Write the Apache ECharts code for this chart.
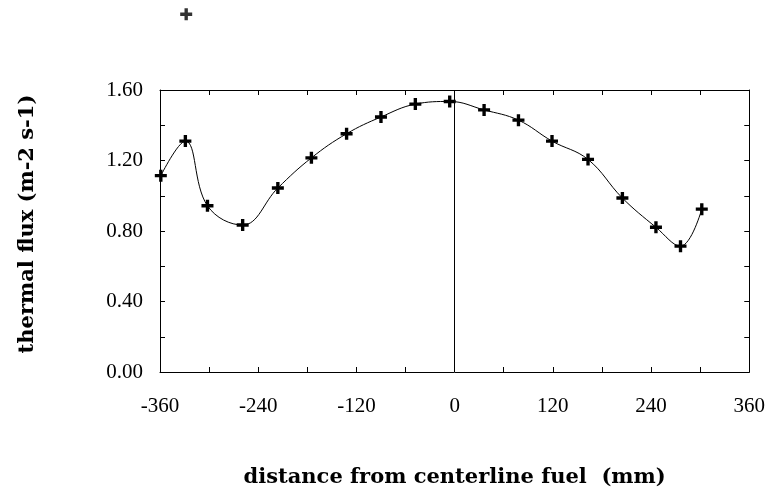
<!DOCTYPE html>
<html>
<head>
<meta charset="utf-8">
<script src="https://cdn.jsdelivr.net/npm/echarts@6/dist/echarts.min.js"></script>
<style>html,body{margin:0;padding:0;background:#fff;}#c{width:768px;height:497px;}</style>
</head>
<body>
<div id="c"></div>
<script>
const distance = [-359, -329, -302, -259, -216, -175, -132, -90, -48, -6, 36, 78, 119, 163, 205, 246, 276, 302];
const flux = [1.114, 1.31, 0.943, 0.834, 1.044, 1.215, 1.352, 1.447, 1.52, 1.535, 1.487, 1.429, 1.31, 1.206, 0.987, 0.821, 0.714, 0.924];
const strayDistance = [-328];
const strayFlux = [2.03];
const xTicks = [-360, -240, -120, 0, 120, 240, 360];
const yTicks = [0.0, 0.4, 0.8, 1.2, 1.6];

const plus = 'path://M3.6,0 H6.4 V3.6 H10 V6.4 H6.4 V10 H3.6 V6.4 H0 V3.6 H3.6 Z';
const font = 'Liberation Serif';
const titleFont = 'DejaVu Serif';
const chart = echarts.init(document.getElementById('c'), null, {renderer: 'canvas'});

const baseAxis = {
  axisLine: {show: true, onZero: false, lineStyle: {color: '#000', width: 1}},
  axisTick: {show: true, inside: true, length: 5, lineStyle: {color: '#000'}},
  splitLine: {show: false}
};

chart.setOption({
  animation: false,
  backgroundColor: '#fff',
  grid: {left: 160, right: 18, top: 90, bottom: 125},
  xAxis: [
    Object.assign({}, baseAxis, {
      type: 'value', min: -360, max: 360, interval: 60, position: 'bottom',
      name: 'distance from centerline fuel  (mm)', nameLocation: 'middle', nameGap: 95,
      nameTextStyle: {fontFamily: titleFont, fontSize: 21, fontWeight: 'bold', color: '#000'},
      axisLabel: {margin: 24, fontFamily: font, fontSize: 21, color: '#000',
        formatter: v => xTicks.indexOf(v) >= 0 ? String(v) : ''}
    }),
    Object.assign({}, baseAxis, {
      type: 'value', min: -360, max: 360, interval: 60, position: 'top',
      axisLabel: {show: false}
    })
  ],
  yAxis: [
    Object.assign({}, baseAxis, {
      type: 'value', min: 0, max: 1.6, interval: 0.2, position: 'left',
      name: 'thermal flux (m-2 s-1)', nameLocation: 'middle', nameGap: 122,
      nameTextStyle: {fontFamily: titleFont, fontSize: 21, fontWeight: 'bold', color: '#000', padding: [0, 0, 0, 14]},
      axisLabel: {margin: 17, fontFamily: font, fontSize: 21, color: '#000', padding: [8, 0, 0, 0],
        formatter: v => yTicks.some(t => Math.abs(t - v) < 1e-6) ? v.toFixed(2) : ''}
    }),
    Object.assign({}, baseAxis, {
      type: 'value', min: 0, max: 1.6, interval: 0.2, position: 'right',
      axisLabel: {show: false}
    })
  ],
  series: [
    {
      type: 'line',
      data: distance.map((d, i) => [d, flux[i]]),
      smooth: 0.4,
      symbol: plus,
      symbolSize: 12,
      showAllSymbol: true,
      lineStyle: {color: '#000', width: 1},
      itemStyle: {color: '#000'},
      markLine: {
        silent: true, symbol: 'none', label: {show: false},
        lineStyle: {color: '#000', width: 1, type: 'solid'},
        data: [{xAxis: 0}]
      }
    },
    {
      type: 'scatter',
      data: strayDistance.map((d, i) => [d, strayFlux[i]]),
      symbol: plus,
      symbolSize: 12,
      clip: false,
      itemStyle: {color: '#000'}
    }
  ]
});
</script>
</body>
</html>
